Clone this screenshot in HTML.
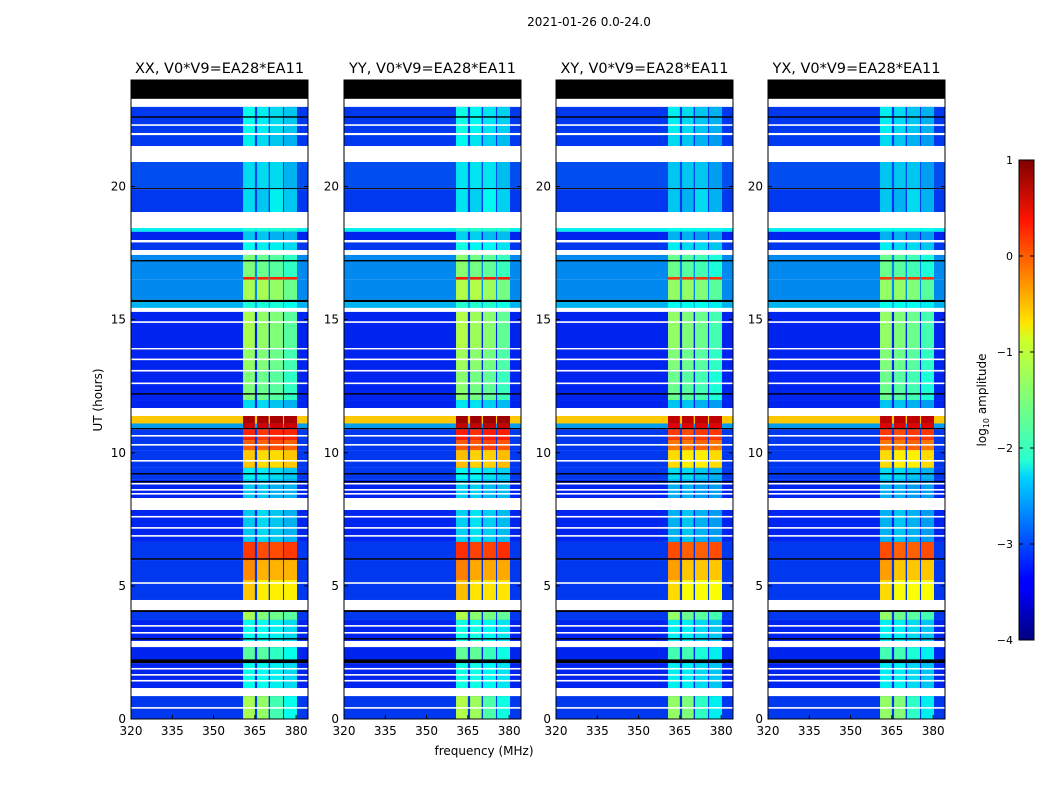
<!DOCTYPE html>
<html><head><meta charset="utf-8"><style>
body{margin:0;background:#fff;font-family:"DejaVu Sans",sans-serif;}
svg text{font-family:"DejaVu Sans",sans-serif;fill:#000;}
</style></head><body>
<svg id="fig" width="1050" height="800" viewBox="0 0 1050 800" xmlns="http://www.w3.org/2000/svg">
<defs><linearGradient id="jet" x1="0" y1="1" x2="0" y2="0">
<stop offset="0" stop-color="#00007f"/><stop offset="0.11" stop-color="#0000ff"/><stop offset="0.125" stop-color="#0000ff"/>
<stop offset="0.34" stop-color="#00d4ff"/><stop offset="0.375" stop-color="#29ffce"/><stop offset="0.5" stop-color="#7dff7a"/>
<stop offset="0.625" stop-color="#ceff29"/><stop offset="0.66" stop-color="#ffe500"/><stop offset="0.875" stop-color="#ff1400"/>
<stop offset="1" stop-color="#7f0000"/></linearGradient></defs>
<text x="589" y="26" font-size="12" text-anchor="middle">2021-01-26 0.0-24.0</text>
<text x="484" y="755" font-size="12" text-anchor="middle">frequency (MHz)</text>
<text transform="translate(102,400) rotate(-90)" font-size="12" text-anchor="middle">UT (hours)</text>
<g id="panels"></g>
<g id="cbar">
<rect x="1019" y="160" width="15" height="480" fill="url(#jet)" stroke="#000" stroke-width="1"/>
<text transform="translate(986,400) rotate(-90)" font-size="12" text-anchor="middle">log<tspan font-size="8" dy="3">10</tspan><tspan dy="-3"> amplitude</tspan></text>
</g>
</svg>
<script>
const panelTitles = ["XX, V0*V9=EA28*EA11","YY, V0*V9=EA28*EA11","XY, V0*V9=EA28*EA11","YX, V0*V9=EA28*EA11"];
const panelLefts = [131,344,556,768];
const xTicks = [320,335,350,365,380];
const yTicks = [0,5,10,15,20];
const cbarTicks = [1,0,-1,-2,-3,-4];
const bandEdges = [[360.7,365.0],[365.8,370.0],[370.5,375.2],[375.6,380.3]];
const panelBandOffset = [0,0.05,-0.1,-0.1];
// [startHour, endHour, value] : value 'W' flagged(white), 'K' zero(black), or [bg,b1,b2,b3,b4] log10 amp
const segments = [
[24.0,23.29,'K'],[23.29,22.99,'W'],[22.99,22.01,[-3.1,-2.1,-2.2,-2.3,-2.4]],[22.01,21.93,'W'],
[21.93,21.52,[-3.1,-2.2,-2.3,-2.4,-2.5]],[21.52,20.92,'W'],[20.92,19.94,[-3.0,-2.3,-2.3,-2.3,-2.5]],
[19.94,19.9,'K'],[19.9,19.04,[-3.1,-2.3,-2.4,-2.2,-2.4]],[19.04,18.44,'W'],[18.44,18.3,[-2.2,-2,-2,-2,-2]],
[18.3,17.99,[-3.2,-2.4,-2.4,-2.5,-2.5]],[17.99,17.9,'W'],[17.9,17.61,[-3.1,-2.1,-2.2,-2.2,-2.3]],[17.61,17.43,'W'],
[17.43,16.6,[-2.7,-1.5,-1.6,-1.7,-1.9]],[16.6,16.5,[-2.7,0.2,0.2,0.2,0.2]],[16.5,15.74,[-2.7,-1.3,-1.3,-1.4,-1.6]],
[15.74,15.66,'K'],[15.66,15.44,[-2.5,-2,-2,-2,-2.1]],[15.44,15.29,'W'],[15.29,13.93,[-3.2,-1.3,-1.4,-1.5,-1.7]],
[13.93,13.88,'W'],[13.88,13.11,[-3.2,-1.4,-1.5,-1.6,-1.8]],[13.11,13.05,'W'],[13.05,11.98,[-3.2,-1.5,-1.6,-1.7,-1.9]],
[11.98,11.68,[-3.2,-2.3,-2.3,-2.4,-2.5]],[11.68,11.38,'W'],[11.38,11.1,[-0.6,0.8,0.8,0.8,0.8]],[11.1,10.93,[-2.6,0.6,0.6,0.6,0.6]],
[10.93,10.88,'K'],[10.88,10.48,[-3.1,0.2,0.1,0.2,0.2]],[10.48,10.1,[-3.1,-0.1,-0.1,0,-0.1]],[10.1,9.43,[-3.1,-0.6,-0.7,-0.7,-0.6]],
[9.43,8.98,[-3.1,-2.2,-2.2,-2.3,-2.4]],[8.98,8.3,[-3.2,-2.4,-2.4,-2.5,-2.5]],[8.3,7.85,'W'],
[7.85,6.65,[-3.2,-2.4,-2.3,-2.4,-2.5]],[6.65,5.97,[-3.1,0.1,0,0,0.1]],[5.97,5.22,[-3.1,-0.3,-0.5,-0.5,-0.5]],
[5.22,4.47,[-3.1,-0.6,-0.8,-0.8,-0.8]],[4.47,4.09,'W'],[4.09,4.02,'K'],[4.02,3.72,[-3.1,-1.3,-1.5,-1.6,-1.7]],
[3.72,2.93,[-3.2,-2.1,-2.1,-2.2,-2.3]],[2.93,2.7,'W'],[2.7,2.22,[-3.2,-1.7,-1.7,-1.9,-2.1]],[2.22,2.1,'K'],
[2.1,1.16,[-3.2,-2.1,-2.1,-2.2,-2.3]],[1.16,0.86,'W'],[0.86,0.0,[-3.1,-1.3,-1.4,-1.8,-2.1]]];
const whiteLines = [22.3,14.9,13.5,12.6,10.63,10.29,9.69,8.83,8.6,8.45,7.59,7.17,6.87,5.1,3.49,3.23,1.88,1.65,1.43,0.41];
const blackLines = [22.6,17.2,12.2,9.2,8.9,6.0,3.0,2.2];

const NS='http://www.w3.org/2000/svg';
const W=177,TOP=80,BOT=719,FMIN=320,FMAX=384.3;
function xs(f,l){return l+(f-FMIN)/(FMAX-FMIN)*W;}
function ys(h){return BOT-h/24*(BOT-TOP);}
function cl(v){return Math.max(0,Math.min(1,v));}
function jet(v){const t=cl((v+4)/5);const r=cl(1.5-Math.abs(4*t-3)),g=cl(1.5-Math.abs(4*t-2)),b=cl(1.5-Math.abs(4*t-1));
return `rgb(${Math.round(r*255)},${Math.round(g*255)},${Math.round(b*240)})`;}
function mk(p,tag,attrs){const e=document.createElementNS(NS,tag);for(const k in attrs)e.setAttribute(k,attrs[k]);p.appendChild(e);return e;}
const root=document.getElementById('panels');
panelLefts.forEach((L,pi)=>{
  const g=mk(root,'g',{});
  
  
  segments.forEach(s=>{
    const y0=ys(s[0]),y1=ys(s[1]);
    if(s[2]==='W'||s[2]==='K'){
      const r=mk(g,'rect',{x:L,y:y0,width:W,height:y1-y0,fill:s[2]==='W'?'#fff':'#000'});
      
      
      return;}
    const v=s[2];
    const r=mk(g,'rect',{x:L,y:y0,width:W,height:y1-y0,fill:jet(v[0])});
    
    
    bandEdges.forEach((b,bi)=>{
      const c=mk(g,'rect',{x:xs(b[0],L),y:y0,width:xs(b[1],L)-xs(b[0],L),height:y1-y0,fill:jet(v[bi+1]+panelBandOffset[pi])});
      
      
    });
  });
  whiteLines.forEach(h=>{const r=mk(g,'rect',{x:L,y:ys(h)-1,width:W,height:1.6,fill:'#fff'});
    
    });
  blackLines.forEach(h=>{const r=mk(g,'rect',{x:L,y:ys(h)-1,width:W,height:1.4,fill:'#000'});
    
    });
  const fr=mk(g,'rect',{x:L,y:TOP,width:W,height:BOT-TOP,fill:'none',stroke:'#000','stroke-width':1});
  
  
  const t=mk(g,'text',{x:L+W/2,y:TOP-7,'font-size':14.5,'text-anchor':'middle'});
  
  
  t.textContent=panelTitles[pi];
  xTicks.forEach(f=>{const x=xs(f,L);
    mk(g,'line',{x1:x,x2:x,y1:BOT,y2:BOT-4,stroke:'#000'});mk(g,'line',{x1:x,x2:x,y1:TOP,y2:TOP+4,stroke:'#000'});
    const tl=mk(g,'text',{x:x,y:BOT+16,'font-size':12,'text-anchor':'middle'});
    
    
    tl.textContent=f;});
  yTicks.forEach(h=>{const y=ys(h);
    mk(g,'line',{x1:L,x2:L+4,y1:y,y2:y,stroke:'#000'});mk(g,'line',{x1:L+W,x2:L+W-4,y1:y,y2:y,stroke:'#000'});
    const tl=mk(g,'text',{x:L-5,y:y+4,'font-size':12,'text-anchor':'end'});
    
    
    tl.textContent=h;});
});
const cb=document.getElementById('cbar');
cbarTicks.forEach(v=>{const y=160+(1-v)/5*480;
  mk(cb,'line',{x1:1019,x2:1023,y1:y,y2:y,stroke:'#000'});mk(cb,'line',{x1:1034,x2:1030,y1:y,y2:y,stroke:'#000'});
  const tl=mk(cb,'text',{x:1013,y:y+4,'font-size':11,'text-anchor':'end'});
  
  
  tl.textContent=v<0?'\u2212'+(-v):String(v);});
</script>
</body></html>
